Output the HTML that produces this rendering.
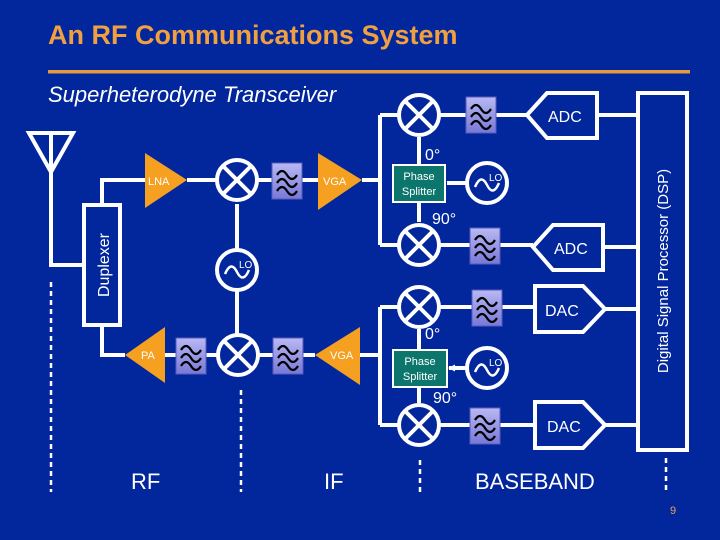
<!DOCTYPE html>
<html><head><meta charset="utf-8"><style>
html,body{margin:0;padding:0;background:#02269c;}
svg{display:block;font-family:"Liberation Sans",Arial,sans-serif;}
</style></head><body>
<svg width="720" height="540" viewBox="0 0 720 540" xmlns="http://www.w3.org/2000/svg">
<defs>
<linearGradient id="fg" x1="0" y1="0" x2="0" y2="1"><stop offset="0" stop-color="#b8b8f4"/><stop offset="1" stop-color="#7878d8"/></linearGradient>
<g id="flt"><rect x="0" y="0" width="30" height="36" fill="url(#fg)" stroke="#5a5ab8" stroke-width="1"/>
<path d="M5 12 q5 -8 10 0 t10 0 M5 20 q5 -8 10 0 t10 0 M5 28 q5 -8 10 0 t10 0" fill="none" stroke="#000" stroke-width="2.2"/></g>
<g id="mix"><circle r="20" fill="#02269c" stroke="#fff" stroke-width="4"/><path d="M-14 -14 L14 14 M14 -14 L-14 14" stroke="#fff" stroke-width="4"/></g>
<g id="lo"><circle r="20" fill="#02269c" stroke="#fff" stroke-width="4"/><path d="M-12 4 q6 -14 12 -2 t12 -2" fill="none" stroke="#fff" stroke-width="2.5"/><text x="2" y="-2" font-size="10" fill="#fff">LO</text></g>
<marker id="ar" markerUnits="userSpaceOnUse" markerWidth="8" markerHeight="8" refX="6" refY="4" orient="auto"><path d="M0 0.5 L7 4 L0 7.5z" fill="#fff"/></marker>
</defs>
<rect width="720" height="540" fill="#02269c"/>
<text x="48" y="44" font-size="27" font-weight="bold" fill="#f0a040">An RF Communications System</text>
<rect x="48" y="70" width="642" height="3.5" fill="#e49a40"/>
<text x="48" y="102" font-size="22" font-style="italic" fill="#fff">Superheterodyne Transceiver</text>

<g stroke="#fff" stroke-width="4" fill="none">
<path d="M29 133 L73 133 L51 172 Z M51 133 L51 265 L84 265"/>
<rect x="84" y="205" width="36" height="120"/>
<path d="M102 205 V180 H145 M102 325 V355 H125"/>
<path d="M187 180 H318 M362 180 H380 M380 115 V245 M380 115 H420 M380 245 H420"/>
<path d="M420 115 H527 M420 245 H533 M597 115 H640 M603 247 H640"/>
<path d="M165 355 H315 M360 355 H380 M380 307 V425 M380 307 H420 M380 425 H420"/>
<path d="M420 307 H535 M420 425 H535 M605 309 H640 M605 425 H640"/>
<rect x="638" y="93" width="49" height="357"/>
<path d="M535 286 H583 L605 309 L583 332 H535 Z"/>
<path d="M535 402 H583 L605 425 L583 448 H535 Z"/>
<path d="M527 115 L547 93 H597 V138 H547 Z"/>
<path d="M533 247 L553 225 H603 V270 H553 Z"/>
</g>
<g stroke="#fff" stroke-width="4" fill="none">
<path d="M237 250 V204 M237 290 V334 M419 165 V137 M419 202 V222 M467 183 H447 M419 350 V329 M419 387 V403 M467 368 H449" marker-end="url(#ar)"/>
</g>
<g stroke="#fff" stroke-width="2.5" stroke-dasharray="5 4">
<path d="M51 282 V492 M241 390 V492 M420 460 V492 M666 458 V492"/>
</g>
<g fill="#f5a020">
<path d="M145 153 L187 180 L145 208 Z"/>
<path d="M318 153 L362 180 L318 210 Z"/>
<path d="M125 355 L165 327 L165 383 Z"/>
<path d="M315 355 L360 327 L360 385 Z"/>
</g>
<g fill="#fff" font-size="11">
<text x="148" y="185">LNA</text><text x="323" y="185">VGA</text>
<text x="141" y="359">PA</text><text x="330" y="359">VGA</text>
</g>
<use href="#mix" x="237" y="180"/><use href="#mix" x="419" y="115"/><use href="#mix" x="419" y="245"/>
<use href="#mix" x="238" y="355"/><use href="#mix" x="419" y="307"/><use href="#mix" x="419" y="425"/>
<use href="#lo" x="237" y="270"/><use href="#lo" x="487" y="183"/><use href="#lo" x="487" y="368"/>
<use href="#flt" x="272" y="163"/><use href="#flt" x="466" y="97"/><use href="#flt" x="470" y="228"/>
<use href="#flt" x="176" y="338"/><use href="#flt" x="273" y="338"/><use href="#flt" x="472" y="290"/><use href="#flt" x="470" y="408"/>
<rect x="393" y="165" width="52" height="37" fill="#0d766c" stroke="#fff" stroke-width="2"/>
<rect x="393" y="350" width="54" height="37" fill="#0d766c" stroke="#fff" stroke-width="2"/>
<g fill="#fff" font-size="11" text-anchor="middle">
<text x="419" y="180">Phase</text><text x="419" y="195">Splitter</text>
<text x="420" y="365">Phase</text><text x="420" y="380">Splitter</text>
</g>
<g fill="#fff" font-size="16">
<text x="425" y="160">0°</text><text x="432" y="224">90°</text>
<text x="425" y="339">0°</text><text x="433" y="403">90°</text>
<text x="548" y="122">ADC</text><text x="554" y="254">ADC</text>
<text x="545" y="316">DAC</text><text x="547" y="432">DAC</text>
<text transform="translate(109 265) rotate(-90)" text-anchor="middle">Duplexer</text>
<text transform="translate(668 271) rotate(-90)" text-anchor="middle" font-size="15">Digital Signal Processor (DSP)</text>
</g>
<g fill="#fff" font-size="22">
<text x="131" y="489">RF</text><text x="324" y="489">IF</text><text x="475" y="489">BASEBAND</text>
</g>
<text x="670" y="514" font-size="11" fill="#e8a060">9</text>
</svg>
</body></html>
